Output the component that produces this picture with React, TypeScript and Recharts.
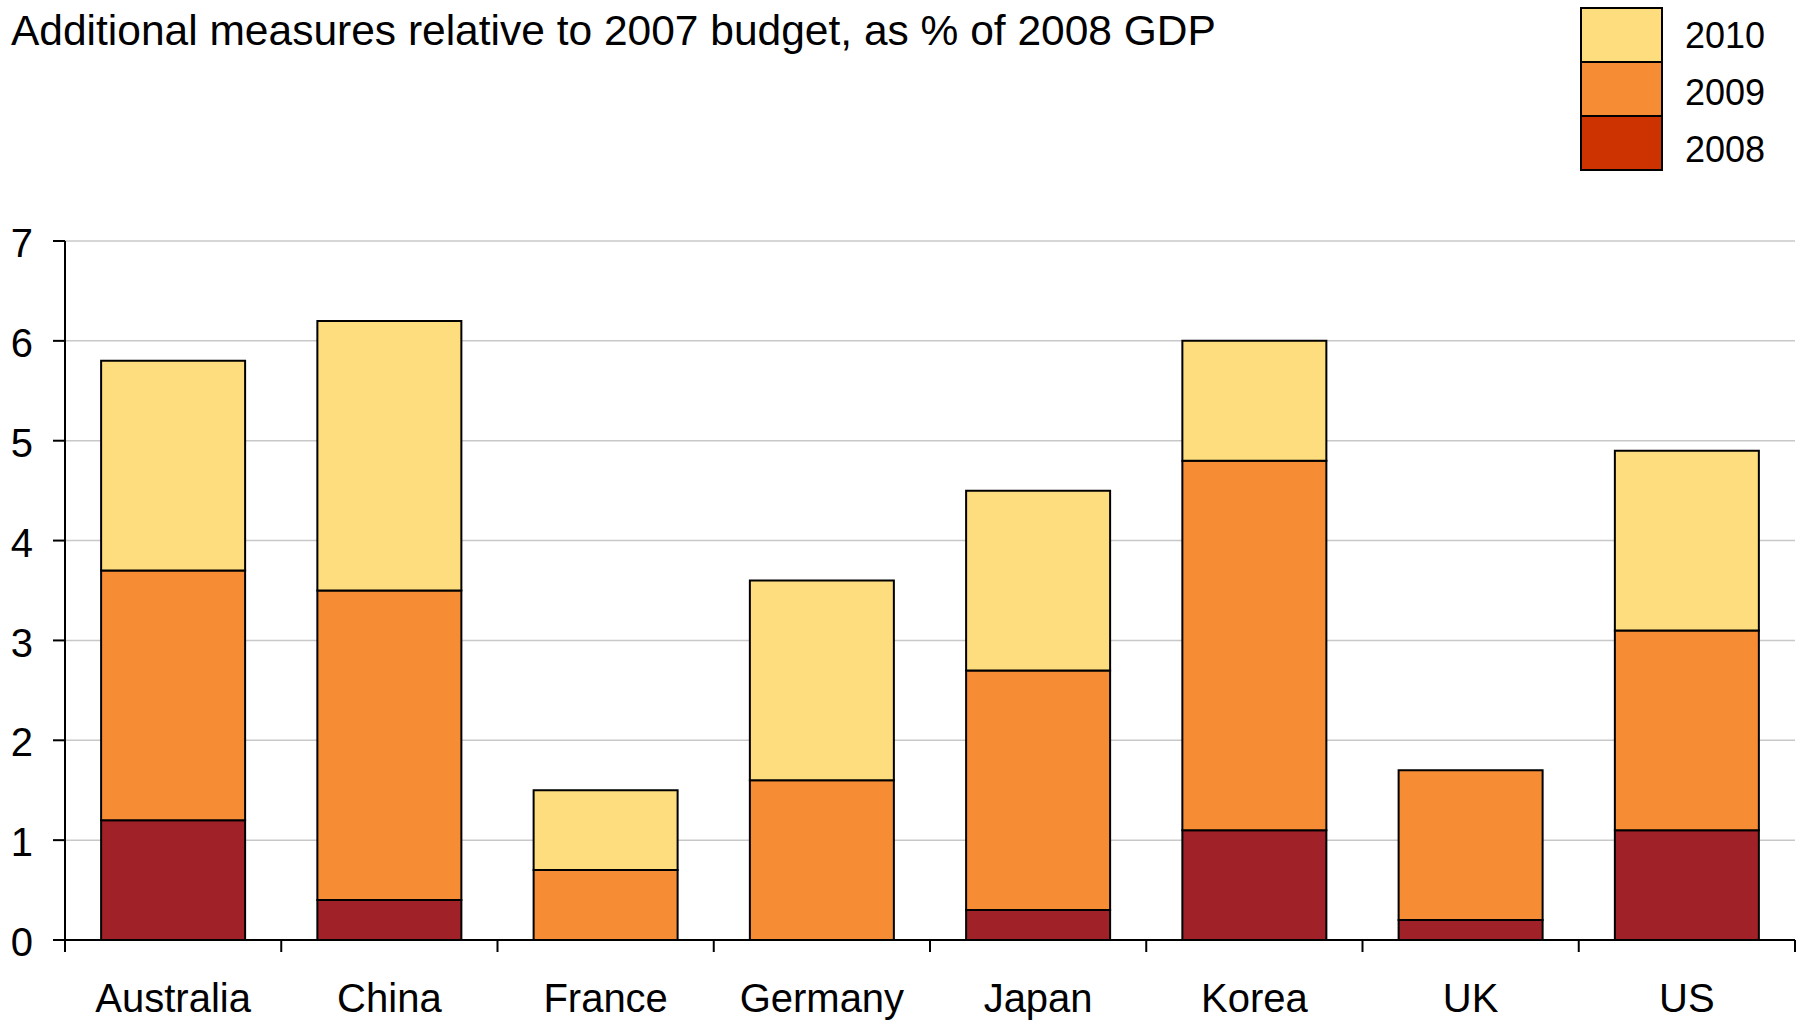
import { BarChart, Bar, XAxis, YAxis, CartesianGrid } from "recharts";

const countries = ["Australia", "China", "France", "Germany", "Japan", "Korea", "UK", "US"];
const y2008 = [1.2, 0.4, 0, 0, 0.3, 1.1, 0.2, 1.1];
const y2009 = [2.5, 3.1, 0.7, 1.6, 2.4, 3.7, 1.5, 2.0];
const y2010 = [2.1, 2.7, 0.8, 2.0, 1.8, 1.2, 0, 1.8];
const yTicks = [0, 1, 2, 3, 4, 5, 6, 7];

const legendItems = [
  { name: "2010", color: "#FDDD7D" },
  { name: "2009", color: "#F68D35" },
  { name: "2008", color: "#CC3300" },
];

const data = countries.map((c, i) => ({
  name: c,
  y2008: y2008[i],
  y2009: y2009[i],
  y2010: y2010[i],
}));

const FONT = '"Liberation Sans", Arial, sans-serif';

// category labels plus tick marks on the category boundaries
const CategoryTick = (props: any) => {
  const { x, y, payload, index } = props;
  const half = payload.offset ?? 108;
  return (
    <g>
      <line x1={x - half} y1={y} x2={x - half} y2={y + 12} stroke="#000" strokeWidth={2} />
      {index === countries.length - 1 && (
        <line x1={x + half} y1={y} x2={x + half} y2={y + 12} stroke="#000" strokeWidth={2} />
      )}
      <text x={x} y={y + 72} textAnchor="middle" fontSize={40} fontFamily={FONT} fill="#000">
        {payload.value}
      </text>
    </g>
  );
};

const LegendBox = () => (
  <svg width={220} height={180} style={{ position: "absolute", left: 1575, top: 0 }}>
    {legendItems.map((it, i) => (
      <g key={it.name}>
        <rect x={6} y={8 + i * 54} width={81} height={54} fill={it.color} stroke="#000" strokeWidth={2} />
        <text x={110} y={48 + i * 57} fontSize={36} fontFamily={FONT} fill="#000">
          {it.name}
        </text>
      </g>
    ))}
  </svg>
);

export default function App() {
  return (
    <div style={{ position: "absolute", left: 0, top: 0, width: 1800, height: 1020, background: "#fff" }}>
      <BarChart
        width={1800}
        height={1020}
        data={data}
        margin={{ top: 241, right: 5, left: 0, bottom: 0 }}
        barCategoryGap="16.7%"
      >
        <CartesianGrid vertical={false} stroke="#c8c8c8" strokeWidth={1.5} />
        <XAxis
          dataKey="name"
          height={80}
          axisLine={{ stroke: "#000", strokeWidth: 2 }}
          tickLine={false}
          tickSize={0}
          tickMargin={0}
          interval={0}
          tick={<CategoryTick />}
        />
        <YAxis
          width={65}
          domain={[0, 7]}
          ticks={yTicks}
          interval={0}
          axisLine={{ stroke: "#000", strokeWidth: 2 }}
          tickLine={{ stroke: "#000", strokeWidth: 2 }}
          tickSize={12}
          tickMargin={20}
          tick={{ fontSize: 40, fontFamily: FONT, fill: "#000", dy: 2 }}
        />
        <Bar dataKey="y2008" stackId="a" fill="#A02128" stroke="#000" strokeWidth={2} isAnimationActive={false} />
        <Bar dataKey="y2009" stackId="a" fill="#F68D35" stroke="#000" strokeWidth={2} isAnimationActive={false} />
        <Bar dataKey="y2010" stackId="a" fill="#FDDD7D" stroke="#000" strokeWidth={2} isAnimationActive={false} />
      </BarChart>
      <div
        style={{
          position: "absolute",
          left: 11,
          top: 7,
          fontFamily: FONT,
          fontSize: 42.5,
          color: "#000",
          whiteSpace: "nowrap",
        }}
      >
        Additional measures relative to 2007 budget, as % of 2008 GDP
      </div>
      <LegendBox />
    </div>
  );
}
